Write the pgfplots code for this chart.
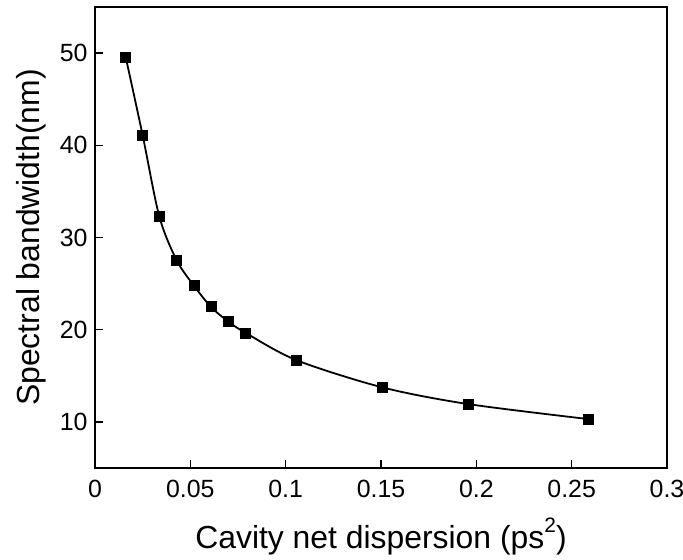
\documentclass[border=0pt]{standalone}
\usepackage{pgfplots}
\pgfplotsset{compat=1.18}
\usepackage{fontspec}
\setmainfont{Liberation Sans}
\begin{document}
\begin{tikzpicture}
\path[use as bounding box] (-95bp,-92bp) rectangle (588bp,468bp);
\begin{axis}[
  at={(0,0)}, anchor=south west,
  scale only axis, width=572bp, height=461bp,
  xmin=0, xmax=0.3, ymin=5, ymax=55,
  xtick={0,0.05,0.1,0.15,0.2,0.25,0.3},
  xticklabels={0,0.05,0.1,0.15,0.2,0.25,0.3},
  ytick={10,20,30,40,50},
  xtick pos=left, ytick pos=left, tick align=inside,
  major tick length=8bp,
  axis line style={line width=1.4bp},
  every tick/.style={line width=1.4bp, black},
  tick label style={font=\fontsize{25}{28}\selectfont},
  /pgf/number format/assume math mode=true,
  xticklabel style={yshift=-9bp},
  yticklabel style={xshift=-4bp},
  xlabel={Cavity net dispersion (ps\raisebox{0.5em}{\fontsize{21}{24}\selectfont 2})},
  ylabel={Spectral bandwidth(nm)},
  label style={font=\fontsize{32}{36}\selectfont},
  xlabel style={yshift=-13bp},
  ylabel style={yshift=7bp},
]
\addplot[black, line width=1.8bp, smooth, tension=0.5, no marks] coordinates {
(0.0161,49.57) (0.025,41.08) (0.0337,32.3) (0.0428,27.54) (0.0518,24.8)
(0.0607,22.5) (0.0696,20.93) (0.0789,19.67) (0.1056,16.7) (0.1506,13.75)
(0.1955,11.94) (0.2586,10.31)
};
\addplot[only marks, mark=square*, mark size=5bp, black] coordinates {
(0.0161,49.57) (0.025,41.08) (0.0337,32.3) (0.0428,27.54) (0.0518,24.8)
(0.0607,22.5) (0.0696,20.93) (0.0789,19.67) (0.1056,16.7) (0.1506,13.75)
(0.1955,11.94) (0.2586,10.31)
};
\end{axis}
\end{tikzpicture}
\end{document}
